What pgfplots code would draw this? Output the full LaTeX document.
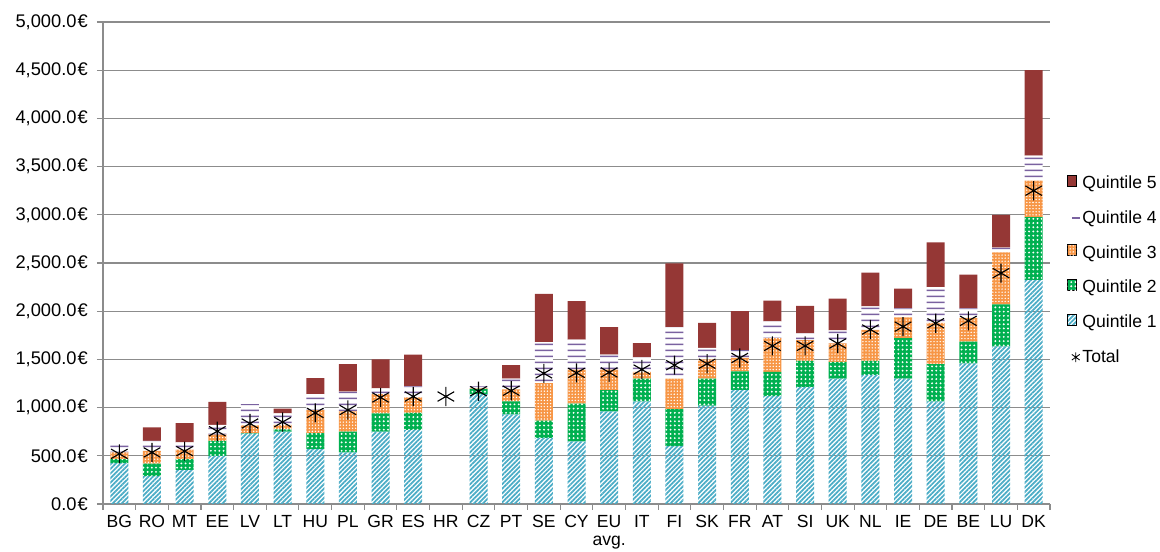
\documentclass[border=0pt]{standalone}
\usepackage{fontspec}
\setmainfont{Liberation Sans}
\usepackage{pgfplots}
\usepackage{pgfplotstable}
\pgfplotsset{compat=1.18}
\usetikzlibrary{patterns,patterns.meta}

\definecolor{qa}{HTML}{4BACC6}
\definecolor{qb}{HTML}{00B050}
\definecolor{qc}{HTML}{F79646}
\definecolor{qd}{HTML}{7A62A0}
\definecolor{qe}{HTML}{953735}
\definecolor{gridgray}{HTML}{8C8C8C}

% wide tile so the horizontal lines have no seams
\pgfdeclarepatternformonly{qlines}{\pgfqpoint{0pt}{0pt}}{\pgfqpoint{100pt}{4.1pt}}{\pgfqpoint{100pt}{4.1pt}}{
  \pgfsetlinewidth{1.15pt}
  \pgfpathmoveto{\pgfqpoint{-1pt}{2pt}}
  \pgfpathlineto{\pgfqpoint{101pt}{2pt}}
  \pgfusepath{stroke}}

% stacked quintile segments (EUR), tot = overall average
\pgfplotstableread{
x  q1   q2   q3   q4   q5   tot
0  425  40   70   75   0    520
1  290  130  130  105  140  535
2  355  110  100  75   200  548
3  500  155  65   100  240  755
4  730  5    80   220  0    835
5  750  25   45   120  50   850
6  570  165  240  165  165  945
7  535  215  210  205  285  975
8  750  190  200  60   300  1105
9  770  175  160  115  330  1115
10 0    0    0    0    0    1115
11 1140 55   5    20   0    1170
12 930  135  125  110  140  1175
13 685  180  390  425  500  1355
14 650  390  355  310  400  1360
15 960  220  215  155  285  1365
16 1065 235  70   150  150  1395
17 600  385  315  535  660  1440
18 1020 280  200  120  260  1455
19 1185 190  140  80   405  1515
20 1120 250  350  175  215  1640
21 1215 270  215  70   285  1640
22 1300 175  190  135  330  1665
23 1340 145  320  245  350  1810
24 1300 420  215  95   205  1840
25 1065 385  430  370  465  1875
26 1460 225  245  100  350  1900
27 1635 435  540  50   340  2395
28 2325 650  380  260  885  3250
}\quint

\tikzset{
  sq legend/.style={legend image code/.code={\path[##1,draw=none] (0pt,-2.8pt) rectangle (5.6pt,2.8pt);}},
}

\pgfplotsset{
  common/.style={
    scale only axis, width=23.675cm, height=12.05cm,
    xmin=-0.5, xmax=28.5, ymin=0, ymax=5000,
  },
}

\begin{document}
\begin{tikzpicture}
\begin{axis}[
  common,
  ybar stacked, bar width=0.45cm,
  axis lines*=left,
  axis line style={gridgray, line width=0.8pt},
  tick style={gridgray, line width=0.8pt},
  tick align=outside,
  major tick length=0.15cm,
  xtick={-0.5,0.5,...,28.5},
  x tick label as interval,
  xticklabels={BG,RO,MT,EE,LV,LT,HU,PL,GR,ES,HR,CZ,PT,SE,CY,{EU\\avg.},IT,FI,SK,FR,AT,SI,UK,NL,IE,DE,BE,LU,DK},
  xticklabel style={align=center, font=\fontsize{12.5}{13}\selectfont},
  ytick={0,500,...,5000},
  /pgf/number format/assume math mode=true,
  yticklabel={\pgfmathprintnumber[fixed,fixed zerofill,precision=1,1000 sep={,}]{\tick}\kern0.8pt€},
  yticklabel style={font=\fontsize{13}{14}\selectfont, xshift=-3pt},
  ymajorgrids,
  grid style={gridgray, line width=0.8pt},
  reverse legend,
  legend cell align=left,
  legend style={draw=none, fill=none, at={(1.018,0.485)}, anchor=west,
    font=\fontsize{12.5}{14}\selectfont, row sep=11.2pt, inner sep=0pt,
    nodes={inner sep=1.5pt}},
]
\coordinate (o) at (rel axis cs:0,0);
\addlegendimage{legend image code/.code={
  \draw[black,line width=0.6pt] (2.8pt,-3.5pt)--(2.8pt,3.5pt) (0pt,-2pt)--(5.6pt,2pt) (0pt,2pt)--(5.6pt,-2pt);}}
\addlegendentry{Total}
\addplot[draw=none, pattern={Lines[angle=45,distance=2.3pt,line width=1.25pt]}, pattern color=qa, sq legend]
  table[x=x,y=q1]{\quint};
\addlegendentry{Quintile 1}
\addplot[draw=none, fill=qb, postaction={pattern={Dots[radius=0.75pt,distance=3pt]}, pattern color=white}, sq legend]
  table[x=x,y=q2]{\quint};
\addlegendentry{Quintile 2}
\addplot[draw=none, fill=qc, postaction={pattern={Dots[radius=0.55pt,distance=2.2pt]}, pattern color=white}, sq legend]
  table[x=x,y=q3]{\quint};
\addlegendentry{Quintile 3}
\addplot[draw=none, fill=white, postaction={pattern=qlines, pattern color=qd},
  legend image code/.code={\draw[qd,line width=0.9pt] (0pt,0pt)--(5.6pt,0pt);}]
  table[x=x,y=q4]{\quint};
\addlegendentry{Quintile 4}
\addplot[draw=none, fill=qe, sq legend]
  table[x=x,y=q5]{\quint};
\addlegendentry{Quintile 5}
\end{axis}
\begin{axis}[common, hide axis]
\addplot[only marks, mark=asterisk, mark size=6.8pt, mark options={black, line width=0.8pt}]
  table[x=x,y=tot]{\quint};
\end{axis}
\pgfresetboundingbox
\path (o) ++(-2.575cm,-1.2cm) rectangle ++(29cm,13.8cm);
\end{tikzpicture}
\end{document}
